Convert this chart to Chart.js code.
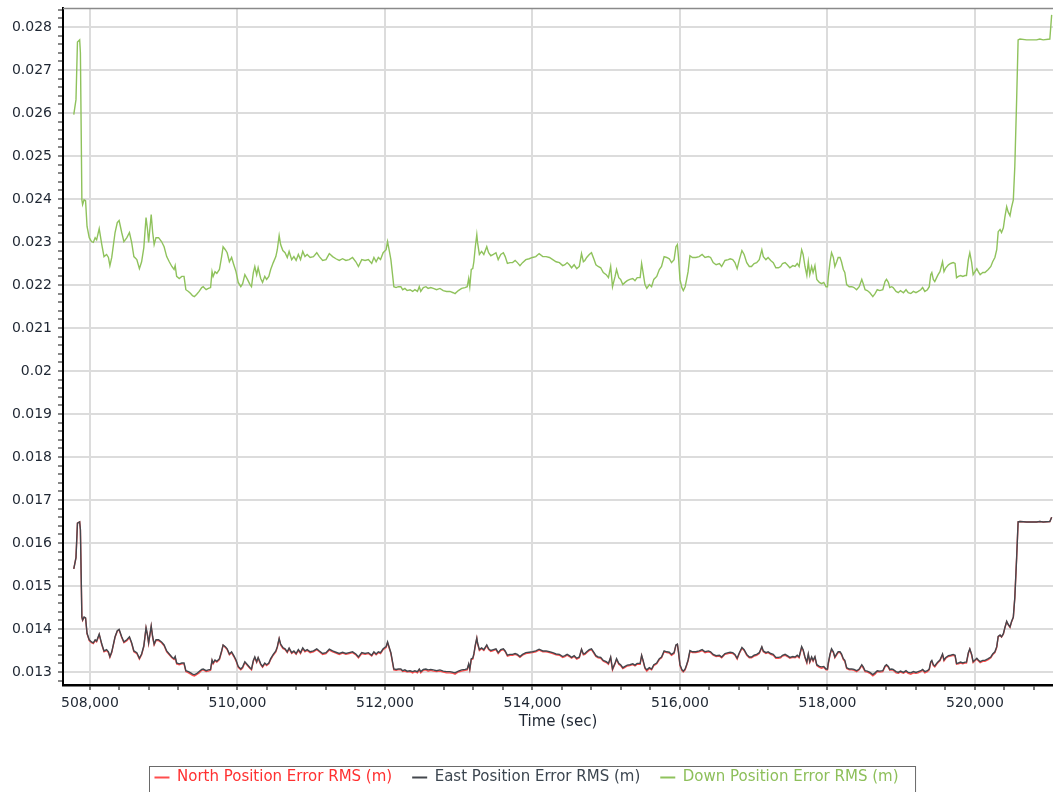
<!DOCTYPE html>
<html>
<head>
<meta charset="utf-8">
<script src="https://cdn.jsdelivr.net/npm/chart.js@4.4.1/dist/chart.umd.min.js"></script>
<style>
  html, body { margin: 0; padding: 0; background: #fff; }
  #wrap { width: 1053px; height: 792px; }
</style>
</head>
<body>
<div id="wrap"><canvas id="rmsChart" width="1053" height="792"></canvas></div>
<script>
// GPS week seconds
let timeSec = [
507780,507810,507830,507860,507870,507890,507900,507920,507940,507960,
507990,508020,508045,508070,508090,508125,508160,508190,508225,508250,
508270,508295,508340,508370,508395,508430,508460,508500,508535,508565,
508595,508635,508670,508700,508730,508760,508780,508795,508815,508830,
508850,508870,508895,508930,508970,509005,509040,509075,509110,509140,
509155,509175,509210,509245,509275,509300,509335,509365,509390,509415,
509445,509480,509515,509535,509575,509605,509635,509655,509670,509695,
509720,509755,509785,509805,509835,509860,509890,509920,509950,509980,
510010,510045,510070,510100,510135,510170,510190,510215,510235,510260,
510280,510315,510340,510370,510395,510425,510450,510485,510520,510540,
510565,510585,510615,510645,510675,510700,510735,510765,510795,510825,
510855,510885,510915,510945,510985,511030,511075,511110,511155,511200,
511245,511290,511335,511380,511425,511470,511515,511560,511605,511640,
511685,511730,511775,511820,511850,511880,511910,511940,511975,512015,
512035,512060,512080,512105,512120,512150,512180,512215,512240,512270,
512300,512340,512375,512405,512440,512465,512485,512520,512555,512585,
512620,512655,512700,512745,512790,512835,512880,512925,512950,512995,
513040,513085,513115,513135,513150,513170,513190,513205,513225,513245,
513255,513280,513310,513340,513380,513405,513435,513470,513505,513535,
513570,513605,513630,513660,513695,513730,513765,513795,513830,513865,
513910,513955,514000,514045,514090,514140,514185,514230,514275,514320,
514365,514410,514440,514470,514500,514530,514565,514600,514635,514665,
514690,514710,514735,514770,514800,514835,514860,514890,514925,514960,
515000,515030,515060,515085,515120,515140,515170,515195,515225,515255,
515285,515320,515360,515390,515420,515460,515480,515500,515525,515550,
515585,515615,515645,515685,515720,515750,515785,515820,515855,515885,
515920,515945,515965,515980,516000,516025,516045,516070,516090,516110,
516135,516170,516215,516260,516300,516340,516385,516415,516450,516490,
516535,516565,516610,516655,516680,516715,516745,516775,516805,516840,
516870,516905,516940,516970,517005,517040,517075,517110,517130,517165,
517195,517230,517265,517300,517335,517365,517390,517425,517455,517490,
517530,517560,517590,517615,517650,517670,517695,517720,517740,517760,
517785,517805,517830,517855,517890,517920,517950,517980,518000,518010,
518035,518055,518080,518100,518125,518145,518170,518190,518215,518235,
518260,518295,518330,518360,518395,518430,518465,518485,518510,518540,
518575,518615,518645,518675,518710,518750,518780,518800,518825,518845,
518870,518890,518930,518960,518990,519030,519065,519095,519130,519165,
519200,519230,519265,519290,519320,519355,519380,519400,519415,519435,
519455,519480,519500,519525,519550,519560,519580,519605,519640,519670,
519705,519730,519750,519775,519805,519835,519865,519885,519910,519930,
519955,519975,520000,520025,520045,520070,520105,520135,520180,520215,
520240,520270,520295,520315,520340,520360,520385,520405,520430,520450,
520475,520495,520520,520540,520565,520585,520610,520700,520835,520880,
520925,521015,521040
];

let northRms = [
0.01540,0.01566,0.01646,0.01649,0.01631,0.01427,0.01420,0.01427,0.01425,0.01389,
0.01373,0.01368,0.01366,0.01373,0.01370,0.01387,0.01363,0.01347,0.01350,0.01345,
0.01334,0.01345,0.01381,0.01395,0.01398,0.01380,0.01368,0.01373,0.01380,0.01366,
0.01347,0.01343,0.01330,0.01340,0.01359,0.01402,0.01385,0.01366,0.01389,0.01406,
0.01380,0.01363,0.01373,0.01373,0.01368,0.01361,0.01347,0.01340,0.01333,0.01329,
0.01334,0.01319,0.01317,0.01319,0.01319,0.01301,0.01298,0.01295,0.01292,0.01291,
0.01294,0.01298,0.01304,0.01305,0.01301,0.01302,0.01304,0.01326,0.01319,0.01326,
0.01323,0.01329,0.01347,0.01362,0.01357,0.01352,0.01340,0.01345,0.01336,0.01326,
0.01311,0.01305,0.01309,0.01322,0.01315,0.01308,0.01305,0.01325,0.01333,0.01322,
0.01332,0.01317,0.01311,0.01319,0.01315,0.01319,0.01329,0.01339,0.01347,0.01357,
0.01377,0.01363,0.01355,0.01352,0.01345,0.01354,0.01343,0.01347,0.01341,0.01350,
0.01343,0.01354,0.01347,0.01350,0.01345,0.01347,0.01352,0.01347,0.01341,0.01343,
0.01351,0.01347,0.01344,0.01341,0.01344,0.01341,0.01343,0.01345,0.01340,0.01333,
0.01343,0.01341,0.01343,0.01337,0.01345,0.01340,0.01345,0.01343,0.01352,0.01357,
0.01368,0.01354,0.01343,0.01319,0.01305,0.01304,0.01305,0.01305,0.01301,0.01302,
0.01300,0.01301,0.01298,0.01301,0.01298,0.01305,0.01298,0.01304,0.01305,0.01302,
0.01304,0.01302,0.01301,0.01302,0.01300,0.01298,0.01298,0.01297,0.01295,0.01300,
0.01302,0.01304,0.01305,0.01317,0.01305,0.01329,0.01330,0.01340,0.01361,0.01378,
0.01366,0.01350,0.01354,0.01350,0.01361,0.01352,0.01348,0.01350,0.01352,0.01343,
0.01350,0.01352,0.01347,0.01337,0.01339,0.01339,0.01341,0.01339,0.01334,0.01339,
0.01343,0.01344,0.01345,0.01347,0.01351,0.01347,0.01347,0.01345,0.01343,0.01340,
0.01339,0.01334,0.01336,0.01339,0.01336,0.01332,0.01336,0.01330,0.01333,0.01352,
0.01340,0.01341,0.01345,0.01350,0.01352,0.01343,0.01336,0.01333,0.01332,0.01325,
0.01322,0.01318,0.01333,0.01305,0.01319,0.01329,0.01318,0.01315,0.01308,0.01311,
0.01314,0.01315,0.01317,0.01314,0.01318,0.01318,0.01338,0.01325,0.01308,0.01302,
0.01308,0.01305,0.01315,0.01319,0.01329,0.01333,0.01347,0.01345,0.01344,0.01339,
0.01343,0.01362,0.01364,0.01345,0.01315,0.01304,0.01300,0.01305,0.01315,0.01326,
0.01348,0.01345,0.01345,0.01347,0.01350,0.01345,0.01347,0.01345,0.01339,0.01336,
0.01337,0.01333,0.01341,0.01343,0.01344,0.01343,0.01339,0.01330,0.01343,0.01355,
0.01350,0.01339,0.01333,0.01333,0.01337,0.01339,0.01343,0.01357,0.01347,0.01343,
0.01345,0.01341,0.01339,0.01332,0.01332,0.01333,0.01337,0.01339,0.01336,0.01332,
0.01334,0.01333,0.01337,0.01333,0.01357,0.01350,0.01333,0.01321,0.01340,0.01322,
0.01333,0.01325,0.01334,0.01315,0.01311,0.01309,0.01311,0.01305,0.01305,0.01318,
0.01340,0.01352,0.01345,0.01333,0.01340,0.01345,0.01345,0.01340,0.01329,0.01325,
0.01308,0.01305,0.01305,0.01304,0.01301,0.01305,0.01315,0.01309,0.01301,0.01300,
0.01297,0.01291,0.01295,0.01301,0.01300,0.01301,0.01312,0.01315,0.01311,0.01304,
0.01305,0.01304,0.01298,0.01297,0.01300,0.01297,0.01301,0.01297,0.01295,0.01298,
0.01297,0.01298,0.01301,0.01304,0.01298,0.01301,0.01305,0.01322,0.01325,0.01315,
0.01312,0.01318,0.01322,0.01326,0.01336,0.01340,0.01326,0.01332,0.01336,0.01337,
0.01339,0.01337,0.01318,0.01319,0.01321,0.01319,0.01321,0.01321,0.01343,0.01353,
0.01339,0.01322,0.01326,0.01330,0.01326,0.01322,0.01325,0.01325,0.01329,0.01333,
0.01340,0.01345,0.01357,0.01382,0.01385,0.01381,0.01388,0.01402,0.01417,0.01410,
0.01404,0.01416,0.01427,0.01472,0.01566,0.01649,0.01650,0.01649,0.01649,0.01650,
0.01649,0.01650,0.01660
];

let eastRms = [
0.01540,0.01566,0.01646,0.01649,0.01631,0.01428,0.01421,0.01428,0.01426,0.01390,
0.01375,0.01370,0.01368,0.01375,0.01372,0.01388,0.01365,0.01349,0.01352,0.01347,
0.01336,0.01347,0.01382,0.01396,0.01399,0.01382,0.01370,0.01375,0.01382,0.01368,
0.01349,0.01345,0.01332,0.01342,0.01361,0.01403,0.01386,0.01368,0.01390,0.01407,
0.01382,0.01365,0.01375,0.01375,0.01370,0.01363,0.01349,0.01342,0.01335,0.01331,
0.01336,0.01321,0.01319,0.01321,0.01321,0.01303,0.01301,0.01298,0.01295,0.01294,
0.01296,0.01301,0.01306,0.01307,0.01303,0.01305,0.01306,0.01328,0.01321,0.01328,
0.01325,0.01331,0.01349,0.01363,0.01359,0.01354,0.01342,0.01347,0.01338,0.01328,
0.01313,0.01307,0.01312,0.01324,0.01317,0.01310,0.01307,0.01327,0.01335,0.01324,
0.01334,0.01319,0.01313,0.01321,0.01317,0.01321,0.01331,0.01341,0.01349,0.01359,
0.01378,0.01365,0.01357,0.01354,0.01347,0.01356,0.01345,0.01349,0.01343,0.01352,
0.01345,0.01356,0.01349,0.01352,0.01347,0.01349,0.01354,0.01349,0.01343,0.01345,
0.01353,0.01349,0.01346,0.01343,0.01346,0.01343,0.01345,0.01347,0.01342,0.01335,
0.01345,0.01343,0.01345,0.01339,0.01347,0.01342,0.01347,0.01345,0.01354,0.01359,
0.01370,0.01356,0.01345,0.01321,0.01307,0.01306,0.01307,0.01307,0.01303,0.01305,
0.01302,0.01303,0.01301,0.01303,0.01301,0.01307,0.01301,0.01306,0.01307,0.01305,
0.01306,0.01305,0.01303,0.01305,0.01302,0.01301,0.01301,0.01299,0.01298,0.01302,
0.01305,0.01306,0.01307,0.01319,0.01307,0.01331,0.01332,0.01342,0.01363,0.01379,
0.01368,0.01352,0.01356,0.01352,0.01363,0.01354,0.01350,0.01352,0.01354,0.01345,
0.01352,0.01354,0.01349,0.01339,0.01341,0.01341,0.01343,0.01341,0.01336,0.01341,
0.01345,0.01346,0.01347,0.01349,0.01353,0.01349,0.01349,0.01347,0.01345,0.01342,
0.01341,0.01336,0.01338,0.01341,0.01338,0.01334,0.01338,0.01332,0.01335,0.01353,
0.01342,0.01343,0.01347,0.01352,0.01354,0.01345,0.01338,0.01335,0.01334,0.01327,
0.01324,0.01320,0.01335,0.01307,0.01321,0.01331,0.01320,0.01317,0.01310,0.01313,
0.01316,0.01317,0.01319,0.01316,0.01320,0.01320,0.01339,0.01327,0.01310,0.01305,
0.01310,0.01307,0.01317,0.01321,0.01331,0.01335,0.01349,0.01347,0.01346,0.01341,
0.01345,0.01363,0.01365,0.01347,0.01317,0.01306,0.01302,0.01307,0.01317,0.01328,
0.01350,0.01347,0.01347,0.01349,0.01352,0.01347,0.01349,0.01347,0.01341,0.01338,
0.01339,0.01335,0.01343,0.01345,0.01346,0.01345,0.01341,0.01332,0.01345,0.01357,
0.01352,0.01341,0.01335,0.01335,0.01339,0.01341,0.01345,0.01359,0.01349,0.01345,
0.01347,0.01343,0.01341,0.01334,0.01334,0.01335,0.01339,0.01341,0.01338,0.01334,
0.01336,0.01335,0.01339,0.01335,0.01359,0.01352,0.01335,0.01323,0.01342,0.01324,
0.01335,0.01327,0.01336,0.01317,0.01313,0.01312,0.01313,0.01307,0.01307,0.01320,
0.01342,0.01354,0.01347,0.01335,0.01342,0.01347,0.01347,0.01342,0.01331,0.01327,
0.01310,0.01307,0.01307,0.01306,0.01303,0.01307,0.01317,0.01312,0.01303,0.01302,
0.01299,0.01294,0.01298,0.01303,0.01302,0.01303,0.01314,0.01317,0.01313,0.01306,
0.01307,0.01306,0.01301,0.01299,0.01302,0.01299,0.01303,0.01299,0.01298,0.01301,
0.01299,0.01301,0.01303,0.01306,0.01301,0.01303,0.01307,0.01324,0.01327,0.01317,
0.01314,0.01320,0.01324,0.01328,0.01338,0.01342,0.01328,0.01334,0.01338,0.01339,
0.01341,0.01339,0.01320,0.01321,0.01323,0.01321,0.01323,0.01323,0.01345,0.01354,
0.01341,0.01324,0.01328,0.01332,0.01328,0.01324,0.01327,0.01327,0.01331,0.01335,
0.01342,0.01347,0.01359,0.01383,0.01386,0.01382,0.01389,0.01403,0.01418,0.01411,
0.01405,0.01417,0.01428,0.01473,0.01566,0.01649,0.01650,0.01649,0.01649,0.01650,
0.01649,0.01650,0.01660
];

let downRms = [
0.02596,0.02631,0.02765,0.02770,0.02740,0.02398,0.02387,0.02398,0.02396,0.02336,
0.02310,0.02301,0.02299,0.02310,0.02305,0.02331,0.02294,0.02266,0.02271,0.02264,
0.02245,0.02264,0.02322,0.02345,0.02350,0.02322,0.02301,0.02310,0.02322,0.02299,
0.02266,0.02259,0.02238,0.02254,0.02287,0.02357,0.02329,0.02299,0.02336,0.02364,
0.02322,0.02294,0.02310,0.02310,0.02301,0.02289,0.02266,0.02254,0.02243,0.02236,
0.02245,0.02220,0.02215,0.02220,0.02220,0.02189,0.02185,0.02180,0.02175,0.02173,
0.02178,0.02185,0.02194,0.02196,0.02189,0.02192,0.02194,0.02231,0.02220,0.02231,
0.02227,0.02236,0.02266,0.02289,0.02282,0.02275,0.02254,0.02264,0.02247,0.02231,
0.02206,0.02196,0.02203,0.02224,0.02213,0.02201,0.02196,0.02229,0.02243,0.02224,
0.02240,0.02215,0.02206,0.02220,0.02213,0.02220,0.02236,0.02252,0.02266,0.02282,
0.02315,0.02294,0.02280,0.02275,0.02264,0.02278,0.02259,0.02266,0.02257,0.02271,
0.02259,0.02278,0.02266,0.02271,0.02264,0.02266,0.02275,0.02266,0.02257,0.02259,
0.02273,0.02266,0.02261,0.02257,0.02261,0.02257,0.02259,0.02264,0.02254,0.02243,
0.02259,0.02257,0.02259,0.02250,0.02264,0.02254,0.02264,0.02259,0.02275,0.02282,
0.02301,0.02278,0.02259,0.02220,0.02196,0.02194,0.02196,0.02196,0.02189,0.02192,
0.02187,0.02189,0.02185,0.02189,0.02185,0.02196,0.02185,0.02194,0.02196,0.02192,
0.02194,0.02192,0.02189,0.02192,0.02187,0.02185,0.02185,0.02182,0.02180,0.02187,
0.02192,0.02194,0.02196,0.02215,0.02196,0.02236,0.02238,0.02254,0.02289,0.02317,
0.02299,0.02271,0.02278,0.02271,0.02289,0.02275,0.02268,0.02271,0.02275,0.02259,
0.02271,0.02275,0.02266,0.02250,0.02252,0.02252,0.02257,0.02252,0.02245,0.02252,
0.02259,0.02261,0.02264,0.02266,0.02273,0.02266,0.02266,0.02264,0.02259,0.02254,
0.02252,0.02245,0.02247,0.02252,0.02247,0.02240,0.02247,0.02238,0.02243,0.02273,
0.02254,0.02257,0.02264,0.02271,0.02275,0.02259,0.02247,0.02243,0.02240,0.02229,
0.02224,0.02217,0.02243,0.02196,0.02220,0.02236,0.02217,0.02213,0.02201,0.02206,
0.02210,0.02213,0.02215,0.02210,0.02217,0.02217,0.02250,0.02229,0.02201,0.02192,
0.02201,0.02196,0.02213,0.02220,0.02236,0.02243,0.02266,0.02264,0.02261,0.02252,
0.02259,0.02289,0.02294,0.02264,0.02213,0.02194,0.02187,0.02196,0.02213,0.02231,
0.02268,0.02264,0.02264,0.02266,0.02271,0.02264,0.02266,0.02264,0.02252,0.02247,
0.02250,0.02243,0.02257,0.02259,0.02261,0.02259,0.02252,0.02238,0.02259,0.02280,
0.02271,0.02252,0.02243,0.02243,0.02250,0.02252,0.02259,0.02282,0.02266,0.02259,
0.02264,0.02257,0.02252,0.02240,0.02240,0.02243,0.02250,0.02252,0.02247,0.02240,
0.02245,0.02243,0.02250,0.02243,0.02282,0.02271,0.02243,0.02222,0.02254,0.02224,
0.02243,0.02229,0.02245,0.02213,0.02206,0.02203,0.02206,0.02196,0.02196,0.02217,
0.02254,0.02275,0.02264,0.02243,0.02254,0.02264,0.02264,0.02254,0.02236,0.02229,
0.02201,0.02196,0.02196,0.02194,0.02189,0.02196,0.02213,0.02203,0.02189,0.02187,
0.02182,0.02173,0.02180,0.02189,0.02187,0.02189,0.02208,0.02213,0.02206,0.02194,
0.02196,0.02194,0.02185,0.02182,0.02187,0.02182,0.02189,0.02182,0.02180,0.02185,
0.02182,0.02185,0.02189,0.02194,0.02185,0.02189,0.02196,0.02224,0.02229,0.02213,
0.02208,0.02217,0.02224,0.02231,0.02247,0.02254,0.02231,0.02240,0.02247,0.02250,
0.02252,0.02250,0.02217,0.02220,0.02222,0.02220,0.02222,0.02222,0.02259,0.02275,
0.02252,0.02224,0.02231,0.02238,0.02231,0.02224,0.02229,0.02229,0.02236,0.02243,
0.02254,0.02264,0.02282,0.02324,0.02329,0.02322,0.02333,0.02357,0.02382,0.02370,
0.02361,0.02380,0.02398,0.02475,0.02631,0.02770,0.02772,0.02770,0.02770,0.02772,
0.02770,0.02772,0.02828
];

let seriesNames = ["North Position Error RMS (m)", "East Position Error RMS (m)", "Down Position Error RMS (m)"];
let lineColors = ["#ff4d4d", "#43474d", "#8fc25c"];
let textColors = ["#ff3030", "#3c4650", "#8dbf5a"];

const xMin = 507634, xMax = 521058;
const yMin = 0.012698, yMax = 0.028441;
const fontFam = "'DejaVu Sans', Verdana, sans-serif";

function toPoints(vals) {
  return timeSec.map((t, i) => ({x: t, y: vals[i]}));
}

// top frame line and the box round the legend
const framePlugin = {
  id: 'frame',
  beforeDatasetsDraw(chart) {
    const {ctx, chartArea} = chart;
    ctx.save();
    ctx.strokeStyle = '#8a8a8a';
    ctx.lineWidth = 1.5;
    ctx.beginPath();
    ctx.moveTo(chartArea.left, chartArea.top + 0.5);
    ctx.lineTo(chartArea.right, chartArea.top + 0.5);
    ctx.stroke();
    ctx.restore();
  },
  afterDraw(chart) {
    const lg = chart.legend;
    if (!lg || !lg.legendHitBoxes.length) return;
    const hb = lg.legendHitBoxes;
    const last = hb[hb.length - 1];
    const x0 = hb[0].left - 5;
    const x1 = last.left + last.width + 17;
    const y0 = hb[0].top + hb[0].height / 2 - 12;
    const ctx = chart.ctx;
    ctx.save();
    ctx.strokeStyle = '#6a6a6a';
    ctx.lineWidth = 1;
    ctx.strokeRect(Math.round(x0) + 0.5, Math.round(y0) + 0.5, x1 - x0, 40);
    ctx.restore();
  }
};

let ctx = document.getElementById("rmsChart").getContext("2d");

const data = {
  datasets: [
    {label: seriesNames[0], data: toPoints(northRms), borderColor: lineColors[0], backgroundColor: lineColors[0], order: 1},
    {label: seriesNames[1], data: toPoints(eastRms), borderColor: lineColors[1], backgroundColor: lineColors[1], order: 0},
    {label: seriesNames[2], data: toPoints(downRms), borderColor: lineColors[2], backgroundColor: lineColors[2], order: 2}
  ]
};

const config = {
  type: 'line',
  data: data,
  plugins: [framePlugin],
  options: {
    responsive: false,
    animation: false,
    layout: {padding: {top: 8, right: 0, left: 0, bottom: -3}},
    elements: {
      point: {radius: 0, hoverRadius: 0},
      line: {borderWidth: 1.4, tension: 0, fill: false}
    },
    plugins: {
      tooltip: {enabled: false},
      legend: {
        position: 'bottom',
        labels: {
          boxWidth: 15,
          boxHeight: 2,
          padding: 20,
          font: {family: fontFam, size: 15},
          sort: (a, b) => a.datasetIndex - b.datasetIndex,
          generateLabels(chart) {
            const items = Chart.defaults.plugins.legend.labels.generateLabels(chart);
            items.forEach(it => {
              const i = it.datasetIndex;
              it.fillStyle = lineColors[i];
              it.strokeStyle = lineColors[i];
              it.lineWidth = 0;
              it.fontColor = textColors[i];
            });
            return items;
          }
        }
      }
    },
    scales: {
      x: {
        type: 'linear',
        min: xMin,
        max: xMax,
        afterFit(scale) { scale.height = 65; },
        afterBuildTicks(scale) {
          const t = [];
          for (let k = 1270; k <= 1302; k++) t.push({value: k * 400});
          scale.ticks = t;
        },
        ticks: {
          autoSkip: false,
          maxRotation: 0,
          padding: 5,
          color: '#1f2733',
          font: {family: fontFam, size: 14},
          callback: v => (v % 2000 === 0 ? v.toLocaleString('en-US') : '')
        },
        grid: {
          lineWidth: 2,
          color: c => (c.tick && c.tick.value % 2000 === 0 ? '#dcdcdc' : 'rgba(0,0,0,0)'),
          tickColor: '#777',
          tickLength: 5
        },
        border: {display: true, color: '#000', width: 2.5},
        title: {
          display: true,
          text: 'Time (sec)',
          color: '#1f2733',
          font: {family: fontFam, size: 15},
          padding: {top: 0, bottom: 19}
        }
      },
      y: {
        type: 'linear',
        min: yMin,
        max: yMax,
        afterFit(scale) {
          scale.width = 63;
          scale.paddingTop = 0;
          scale.paddingBottom = 0;
        },
        afterBuildTicks(scale) {
          const t = [];
          for (let k = 64; k <= 142; k++) t.push({value: k / 5000});
          scale.ticks = t;
        },
        ticks: {
          autoSkip: false,
          padding: 6,
          color: '#1f2733',
          font: {family: fontFam, size: 14},
          callback: v => (Math.round(v * 5000) % 5 === 0 ? String(+v.toFixed(3)) : '')
        },
        grid: {
          lineWidth: 2,
          color: c => (c.tick && Math.round(c.tick.value * 5000) % 5 === 0 ? '#dcdcdc' : 'rgba(0,0,0,0)'),
          tickColor: '#888',
          tickLength: 5
        },
        border: {display: true, color: '#000', width: 2}
      }
    }
  }
};

var rmsChart = new Chart(ctx, config);
</script>
</body>
</html>
